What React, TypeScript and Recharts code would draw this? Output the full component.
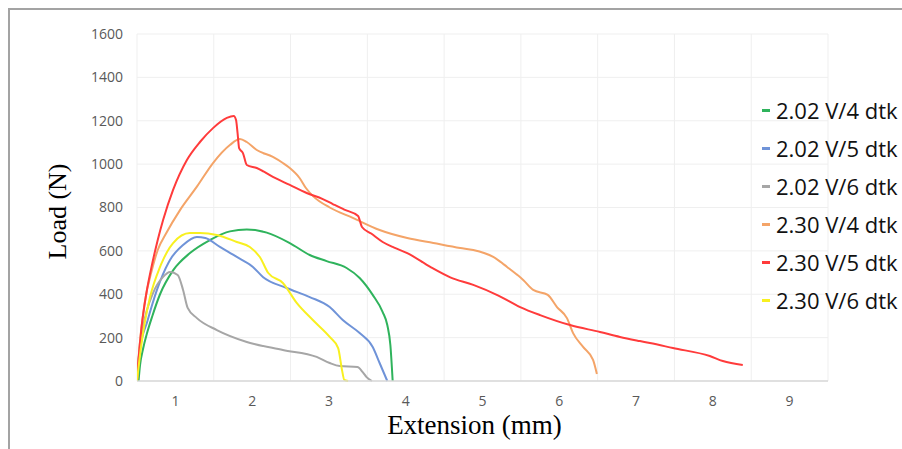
import React from 'react';
import { LineChart, Line, XAxis, YAxis, CartesianGrid, Legend } from 'recharts';

const xTicks = [1, 2, 3, 4, 5, 6, 7, 8, 9];
const xGridTicks = [0.5, 1.5, 2.5, 3.5, 4.5, 5.5, 6.5, 7.5, 8.5, 9.5];
const yTicks = [0, 200, 400, 600, 800, 1000, 1200, 1400, 1600];

const seriesNames = ['2.02 V/4 dtk', '2.02 V/5 dtk', '2.02 V/6 dtk', '2.30 V/4 dtk', '2.30 V/5 dtk', '2.30 V/6 dtk'];
const seriesColors = ['#2fb35c', '#6f93d8', '#a6a6a6', '#f4a468', '#ff3b3b', '#f8f020'];

// [extension (mm), load (N)]
const load202V4: [number, number][] = [
  [0.52, 0], [0.54, 74], [0.58, 150], [0.63, 220], [0.7, 300], [0.8, 400], [0.97, 510], [1.19, 590],
  [1.45, 650], [1.71, 690], [1.93, 698], [2.19, 684], [2.49, 636], [2.75, 581], [2.97, 553], [3.23, 521],
  [3.4, 475], [3.57, 397], [3.7, 318], [3.76, 258], [3.8, 166], [3.83, 0],
];
const load202V5: [number, number][] = [
  [0.5, 0], [0.53, 129], [0.64, 281], [0.76, 420], [0.93, 558], [1.1, 627], [1.28, 664], [1.39, 659],
  [1.58, 618], [1.8, 572], [2.01, 526], [2.14, 480], [2.45, 429], [2.75, 387], [3.01, 341], [3.18, 281],
  [3.4, 221], [3.57, 157], [3.66, 83], [3.76, 0],
];
const load202V6: [number, number][] = [
  [0.5, 0], [0.52, 97], [0.58, 249], [0.71, 406], [0.84, 480], [0.93, 503], [1.03, 489], [1.1, 420],
  [1.16, 337], [1.28, 290], [1.54, 235], [1.93, 180], [2.4, 143], [2.84, 111], [3.01, 83], [3.14, 69],
  [3.37, 65], [3.44, 41], [3.49, 18], [3.56, 0],
];
const load230V4: [number, number][] = [
  [0.5, 0], [0.53, 150], [0.6, 360], [0.7, 520], [0.77, 604], [0.88, 681], [1.06, 788], [1.28, 896],
  [1.49, 1005], [1.71, 1088], [1.84, 1116], [1.93, 1102], [2.06, 1065], [2.27, 1033], [2.4, 1005],
  [2.49, 982], [2.62, 935], [2.7, 890], [2.8, 850], [3.01, 800], [3.31, 752], [3.66, 696], [4.02, 659],
  [4.36, 636], [4.71, 613], [4.88, 604], [5.14, 572], [5.32, 526], [5.53, 466], [5.66, 420], [5.85, 397],
  [5.97, 341], [6.1, 290], [6.18, 221], [6.31, 157], [6.44, 97], [6.49, 32],
];
const load230V5: [number, number][] = [
  [0.5, 0], [0.52, 100], [0.56, 250], [0.62, 400], [0.7, 544], [0.77, 650], [0.84, 742], [0.97, 881],
  [1.15, 1019], [1.32, 1102], [1.49, 1166], [1.67, 1213], [1.76, 1222], [1.79, 1203], [1.81, 1143],
  [1.83, 1074], [1.88, 1051], [1.93, 996], [2.06, 982], [2.27, 941], [2.49, 904], [2.71, 867], [2.92, 839],
  [3.05, 816], [3.2, 790], [3.38, 761], [3.4, 742], [3.43, 710], [3.55, 680], [3.7, 641], [3.85, 615],
  [4.02, 590], [4.32, 526], [4.58, 478], [4.88, 443], [5.2, 395], [5.49, 341], [5.75, 304], [6.14, 258],
  [6.53, 226], [6.79, 203], [7.05, 184], [7.18, 175], [7.48, 152], [7.96, 115], [8.13, 92], [8.39, 74],
];
const load230V6: [number, number][] = [
  [0.5, 0], [0.55, 150], [0.6, 267], [0.67, 387], [0.8, 526], [0.97, 636], [1.19, 682], [1.32, 682],
  [1.54, 673], [1.8, 641], [1.97, 618], [2.1, 572], [2.21, 498], [2.4, 452], [2.58, 360], [2.79, 281],
  [3.01, 203], [3.12, 152], [3.17, 51], [3.2, 5], [3.25, 0],
];

const allSeries = [load202V4, load202V5, load202V6, load230V4, load230V5, load230V6];

const toRows = (pts: [number, number][]) => pts.map(([x, y]) => ({ x, y }));

const YTitle = (props: any) => {
  const vb = props.viewBox || { x: 0, y: 24, width: 127, height: 347 };
  const cx = vb.x + 56;
  const cy = vb.y + vb.height / 2 + 4;
  return (
    <text
      transform={`translate(${cx},${cy}) rotate(-90)`}
      textAnchor="middle"
      fontFamily='"Liberation Serif", "Times New Roman", serif'
      fontSize={26}
      fill="#000"
    >
      Load (N)
    </text>
  );
};

const XTitle = (props: any) => {
  const vb = props.viewBox || { x: 127, y: 371, width: 691, height: 60 };
  const cx = vb.x + vb.width / 2 - 8;
  const cy = vb.y + 53;
  return (
    <text
      x={cx}
      y={cy}
      textAnchor="middle"
      fontFamily='"Liberation Serif", "Times New Roman", serif'
      fontSize={27}
      fill="#000"
    >
      Extension (mm)
    </text>
  );
};

const renderLegend = (props: any) => {
  const payload = props.payload || [];
  return (
    <div style={{ fontFamily: '"Open Sans", sans-serif', fontSize: 22, color: '#111' }}>
      {payload.map((p: any, i: number) => (
        <div key={i} style={{ display: 'flex', alignItems: 'center', height: 38, whiteSpace: 'nowrap' }}>
          <span style={{ display: 'inline-block', width: 8, height: 3, background: p.color, marginRight: 6 }} />
          <span style={{ lineHeight: '38px' }}>{p.value}</span>
        </div>
      ))}
    </div>
  );
};

const tickStyle = { fill: '#595959', fontSize: 14, fontFamily: '"Open Sans", sans-serif' };

export default function App() {
  return (
    <div
      style={{
        position: 'fixed',
        top: 8,
        left: 8,
        width: 892,
        height: 439,
        borderTop: '2px solid #a3a3a3',
        borderLeft: '2px solid #a3a3a3',
        overflow: 'hidden',
        background: '#fff',
      }}
    >
      <LineChart width={892} height={431} margin={{ top: 24, right: 74, bottom: 0, left: 0 }}>
        <CartesianGrid stroke="#efefef" strokeWidth={1} xAxisId="grid" />
        <XAxis
          xAxisId="grid"
          type="number"
          dataKey="x"
          domain={[0.5, 9.5]}
          ticks={xGridTicks}
          hide
          allowDataOverflow
        />
        <XAxis
          type="number"
          dataKey="x"
          domain={[0.5, 9.5]}
          ticks={xTicks}
          allowDataOverflow
          height={60}
          axisLine={{ stroke: '#d9d9d9', strokeWidth: 1.5 }}
          tickLine={false}
          tickSize={6}
          tickMargin={9}
          tick={tickStyle}
          label={<XTitle />}
        />
        <YAxis
          type="number"
          domain={[0, 1600]}
          ticks={yTicks}
          width={127}
          axisLine={false}
          tickLine={false}
          tickSize={6}
          tickMargin={8}
          tick={tickStyle}
          label={<YTitle />}
        />
        <Legend
          content={renderLegend}
          layout="vertical"
          align="center"
          verticalAlign="middle"
          wrapperStyle={{ left: 752, top: 81, width: 140 }}
        />
        {allSeries.map((pts, i) => (
          <Line
            key={seriesNames[i]}
            name={seriesNames[i]}
            data={toRows(pts)}
            dataKey="y"
            type="monotone"
            stroke={seriesColors[i]}
            strokeWidth={2}
            dot={false}
            activeDot={false}
            isAnimationActive={false}
          />
        ))}
      </LineChart>
    </div>
  );
}
